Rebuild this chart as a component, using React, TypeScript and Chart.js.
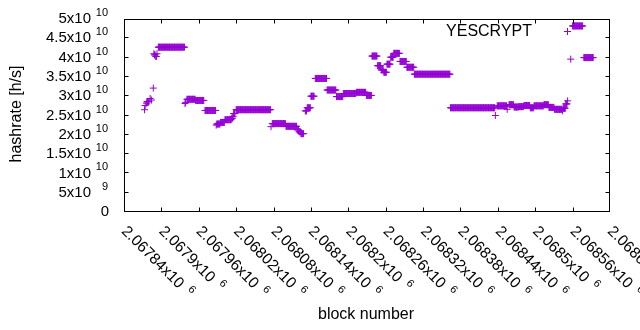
import React, { useEffect, useRef } from "react";
import { Chart, registerables } from "chart.js";

Chart.register(...registerables);

// Hashrate runs: each run is a stretch of consecutive blocks with one value (x1e10 h/s)
const runStartBlocks = [
  2067873, 2067874, 2067876, 2067877, 2067882, 2067884, 2067887, 2067888, 2067889, 2067891,
  2067893, 2067895, 2067938, 2067939, 2067941, 2067955, 2067970, 2067988, 2067989, 2067995,
  2068002, 2068013, 2068015, 2068016, 2068020, 2068076, 2068078, 2068100, 2068118, 2068121,
  2068124, 2068131, 2068134, 2068140, 2068147, 2068166, 2068181, 2068192, 2068213, 2068229,
  2068238, 2068247, 2068253, 2068257, 2068262, 2068268, 2068273, 2068283, 2068294, 2068306,
  2068364, 2068436, 2068439, 2068455, 2068458, 2068466, 2068474, 2068482, 2068492, 2068498,
  2068514, 2068522, 2068531, 2068544, 2068545, 2068549, 2068552, 2068557, 2068560, 2068578,
];
const runEndBlocks = [
  2067873, 2067874, 2067876, 2067880, 2067882, 2067884, 2067887, 2067888, 2067890, 2067892,
  2067893, 2067937, 2067938, 2067939, 2067954, 2067968, 2067987, 2067988, 2067994, 2068001,
  2068012, 2068014, 2068015, 2068018, 2068075, 2068076, 2068099, 2068117, 2068120, 2068123,
  2068128, 2068133, 2068139, 2068145, 2068165, 2068180, 2068191, 2068212, 2068228, 2068237,
  2068246, 2068252, 2068256, 2068261, 2068267, 2068272, 2068282, 2068293, 2068305, 2068363,
  2068435, 2068436, 2068454, 2068455, 2068465, 2068473, 2068481, 2068491, 2068497, 2068513,
  2068521, 2068530, 2068543, 2068544, 2068548, 2068551, 2068552, 2068557, 2068576, 2068593,
];
const runHashrates = [
  2.65, 2.76, 2.82, 2.86, 2.94, 2.90, 3.21, 4.10, 4.07, 4.03,
  4.10, 4.27, 2.81, 2.84, 2.92, 2.89, 2.63, 2.25, 2.28, 2.32,
  2.39, 2.43, 2.48, 2.55, 2.65, 2.21, 2.29, 2.22, 2.13, 2.08,
  2.03, 2.62, 2.70, 3.00, 3.46, 3.16, 2.99, 3.07, 3.10, 3.02,
  4.04, 3.79, 3.68, 3.62, 3.83, 4.01, 4.11, 3.90, 3.75, 3.57,
  2.70, 2.50, 2.75, 2.66, 2.78, 2.72, 2.73, 2.76, 2.70, 2.75,
  2.78, 2.71, 2.66, 2.62, 2.69, 2.80, 2.88, 3.96, 4.82, 4.00,
];
const hashrateUnit = 1e10;

const xMin = 2067840;
const xMax = 2068620;
const xTickValues = [
  2067840, 2067900, 2067960, 2068020, 2068080, 2068140, 2068200,
  2068260, 2068320, 2068380, 2068440, 2068500, 2068560, 2068620,
];
const xTickMantissas = [
  "2.06784", "2.0679", "2.06796", "2.06802", "2.06808", "2.06814", "2.0682",
  "2.06826", "2.06832", "2.06838", "2.06844", "2.0685", "2.06856", "2.06862",
];
const xTickExponent = "6";

const yTickValues = [0, 5e9, 1e10, 1.5e10, 2e10, 2.5e10, 3e10, 3.5e10, 4e10, 4.5e10, 5e10];
const yTickMantissas = ["0", "5", "1", "1.5", "2", "2.5", "3", "3.5", "4", "4.5", "5"];
const yTickExponents = ["", "9", "10", "10", "10", "10", "10", "10", "10", "10", "10"];

const seriesName = "YESCRYPT";
const xTitle = "block number";
const yTitle = "hashrate [h/s]";
const COLOR = "#9400d3";
const FONT = '"Liberation Sans", Arial, Helvetica, sans-serif';

function buildPoints() {
  const pts: { x: number; y: number }[] = [];
  for (let i = 0; i < runStartBlocks.length; i++) {
    for (let b = runStartBlocks[i]; b <= runEndBlocks[i]; b++) {
      pts.push({ x: b, y: runHashrates[i] * hashrateUnit });
    }
  }
  return pts;
}

const gnuplotPlugin = {
  id: "gnuplotDecor",
  afterDraw(chart: any) {
    const { ctx, chartArea: ca, scales } = chart;
    const xs = scales.x;
    const ys = scales.y;
    const L = ca.left + 0.5;
    const R = ca.right - 0.5;
    const T = ca.top + 0.5;
    const B = ca.bottom - 0.5;
    ctx.save();
    ctx.strokeStyle = "#000";
    ctx.lineWidth = 1;
    ctx.strokeRect(L, T, R - L, B - T);
    const tl = 4;
    ctx.beginPath();
    xTickValues.forEach((v) => {
      const px = Math.min(R, Math.round(xs.getPixelForValue(v)) + 0.5);
      ctx.moveTo(px, B);
      ctx.lineTo(px, B - tl);
      ctx.moveTo(px, T);
      ctx.lineTo(px, T + tl);
    });
    yTickValues.forEach((v) => {
      const py = Math.max(T, Math.round(ys.getPixelForValue(v)) - 0.5);
      ctx.moveTo(L, py);
      ctx.lineTo(L + tl, py);
      ctx.moveTo(R, py);
      ctx.lineTo(R - tl, py);
    });
    ctx.stroke();

    ctx.fillStyle = "#000";
    const baseFont = `15px ${FONT}`;
    const supFont = `11px ${FONT}`;
    // y tick labels
    ctx.textBaseline = "middle";
    yTickValues.forEach((v, i) => {
      const py = ys.getPixelForValue(v);
      ctx.textAlign = "right";
      if (yTickExponents[i]) {
        ctx.font = baseFont;
        ctx.fillText(yTickMantissas[i] + "x10", 91, py);
        ctx.font = supFont;
        ctx.fillText(yTickExponents[i], 108, py - 6);
      } else {
        ctx.font = baseFont;
        ctx.fillText(yTickMantissas[i], 109, py);
      }
    });
    // x tick labels rotated
    xTickValues.forEach((v, i) => {
      const px = xs.getPixelForValue(v);
      ctx.save();
      ctx.translate(px + 2, 231);
      ctx.rotate(Math.PI / 4);
      ctx.textAlign = "left";
      ctx.textBaseline = "middle";
      ctx.font = `15.5px ${FONT}`;
      const txt = xTickMantissas[i] + "x10";
      ctx.fillText(txt, -3, 0);
      const w = ctx.measureText(txt).width;
      ctx.font = supFont;
      ctx.fillText(xTickExponent, -3 + w + 7, -5);
      ctx.restore();
    });
    // titles
    ctx.font = `16px ${FONT}`;
    ctx.textAlign = "center";
    ctx.textBaseline = "middle";
    ctx.fillText(xTitle, 366, 315);
    ctx.save();
    ctx.translate(17, 114);
    ctx.rotate(-Math.PI / 2);
    ctx.fillText(yTitle, 0, 0);
    ctx.restore();
    // key
    ctx.textAlign = "right";
    ctx.fillText(seriesName, 532, 32);
    ctx.strokeStyle = COLOR;
    ctx.beginPath();
    ctx.moveTo(564, 31.5);
    ctx.lineTo(571, 31.5);
    ctx.moveTo(567.5, 28);
    ctx.lineTo(567.5, 35);
    ctx.stroke();
    ctx.restore();
  },
};

export default function App() {
  const ref = useRef<HTMLCanvasElement | null>(null);
  useEffect(() => {
    if (!ref.current) return;
    const chart = new Chart(ref.current, {
      type: "scatter",
      data: {
        datasets: [
          {
            label: seriesName,
            data: buildPoints(),
            pointStyle: "cross",
            pointRadius: 3.5,
            pointHoverRadius: 3.5,
            borderWidth: 1,
            borderColor: COLOR,
            backgroundColor: COLOR,
            showLine: false,
          },
        ],
      },
      options: {
        animation: false,
        responsive: false,
        devicePixelRatio: 1,
        events: [],
        layout: { padding: { left: 124, top: 19, right: 30, bottom: 118 } },
        plugins: { legend: { display: false }, tooltip: { enabled: false } },
        scales: {
          x: { type: "linear", min: xMin, max: xMax, display: false },
          y: { type: "linear", min: 0, max: 5e10, display: false },
        },
      },
      plugins: [gnuplotPlugin],
    });
    return () => chart.destroy();
  }, []);
  return (
    <div style={{ position: "fixed", left: 0, top: 0, width: 640, height: 330, background: "#fff" }}>
      <canvas ref={ref} width={640} height={330} style={{ width: 640, height: 330 }} />
    </div>
  );
}
